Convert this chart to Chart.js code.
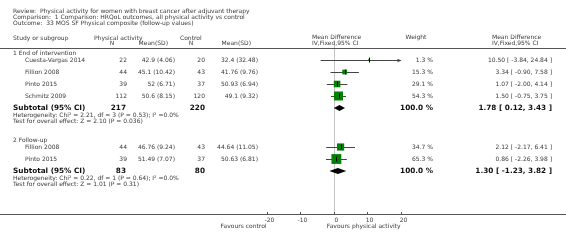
<!DOCTYPE html>
<html>
<head>
<meta charset="utf-8">
<script src="https://cdn.jsdelivr.net/npm/chart.js@4"></script>
<style>
  html, body { margin:0; padding:0; background:#fff; }
  canvas { display:block; }
</style>
</head>
<body>
<canvas id="forest" width="566" height="245"></canvas>
<script>
// ---- data ----
const titleLines = [
  "Review:  Physical activity for women with breast cancer after adjuvant therapy",
  "Comparison:  1 Comparison: HRQoL outcomes, all physical activity vs control",
  "Outcome:  33 MOS SF Physical composite (follow-up values)"
];

const groupNames = ["1 End of intervention", "2 Follow-up"];
const studyNames = ["Cuesta-Vargas 2014", "Fillion 2008", "Pinto 2015", "Schmitz 2009", "Fillion 2008", "Pinto 2015"];
const studyGroup = [0, 0, 0, 0, 1, 1];

const paN    = [22, 44, 39, 112, 44, 39];
const paMean = [42.9, 45.1, 52, 50.6, 46.76, 51.49];
const paSD   = [4.06, 10.42, 6.71, 8.15, 9.24, 7.07];
const ctlN    = [20, 43, 37, 120, 43, 37];
const ctlMean = [32.4, 41.76, 50.93, 49.1, 44.64, 50.63];
const ctlSD   = [32.48, 9.76, 6.94, 9.32, 11.05, 6.81];

const md     = [10.50, 3.34, 1.07, 1.50, 2.12, 0.86];
const mdLo   = [-3.84, -0.90, -2.00, -0.75, -2.17, -2.26];
const mdHi   = [24.84, 7.58, 4.14, 3.75, 6.41, 3.98];
const weight = [1.3, 15.3, 29.1, 54.3, 34.7, 65.3];

const subPaN  = [217, 83];
const subCtlN = [220, 80];
const subMd   = [1.78, 1.30];
const subLo   = [0.12, -1.23];
const subHi   = [3.43, 3.82];
const hetChi  = [2.21, 0.22];
const hetDf   = [3, 1];
const hetP    = [0.53, 0.64];
const hetI2   = [0.0, 0.0];
const zVal    = [2.10, 1.01];
const zP      = [0.036, 0.31];

const axisTicks = [-20, -10, 0, 10, 20];
const favLeft  = "Favours control";
const favRight = "Favours physical activity";

// ---- layout ----
const W = 566, H = 245;
const GROUP_START = [0, 7.25];   // row index where each group's first study sits
const FONT = '"DejaVu Sans", Verdana, sans-serif';
const fBody = `6px ${FONT}`;
const fBold = `bold 7.3px ${FONT}`;
const TXT = "#3a3a3a";

const studyRow = [];
(function(){
  const seen = [0, 0];
  studyGroup.forEach((g, i) => { studyRow[i] = GROUP_START[g] + seen[g]; seen[g]++; });
})();
const subRow = GROUP_START.map((s, g) => s + studyGroup.filter(x => x === g).length);

const sq = weight.map(w => 1.22 * Math.sqrt(w));       // square side, px

function txt(ctx, s, x, y, align, font, color){
  ctx.font = font || fBody;
  ctx.fillStyle = color || TXT;
  ctx.textAlign = align || "left";
  ctx.textBaseline = "middle";
  ctx.fillText(s, x, y);
}

const forestDecor = {
  id: "forestDecor",
  beforeDraw(chart){
    const { ctx } = chart;
    ctx.save();
    ctx.fillStyle = "#fff";
    ctx.fillRect(0, 0, W, H);
    ctx.restore();
  },
  beforeDatasetsDraw(chart){
    const { ctx, scales:{ x, y } } = chart;
    const axisY = chart.chartArea.bottom + 0.5;
    ctx.save();
    ctx.lineWidth = 1;

    // zero line
    const x0 = Math.round(x.getPixelForValue(0)) + 0.5;
    ctx.strokeStyle = "#c4c4c4";
    ctx.beginPath(); ctx.moveTo(x0, 44); ctx.lineTo(x0, axisY); ctx.stroke();

    // header rule and axis rule
    ctx.strokeStyle = "#555";
    ctx.beginPath(); ctx.moveTo(0, 48.5); ctx.lineTo(W, 48.5); ctx.stroke();
    ctx.beginPath(); ctx.moveTo(0, axisY); ctx.lineTo(W, axisY); ctx.stroke();

    // ticks
    axisTicks.forEach(t => {
      const px = Math.round(x.getPixelForValue(t)) + 0.5;
      ctx.beginPath(); ctx.moveTo(px, axisY - 2.5); ctx.lineTo(px, axisY); ctx.stroke();
      txt(ctx, String(t), px + 2, axisY + 6, "center");
    });
    txt(ctx, favLeft, x.getPixelForValue(-20), axisY + 12, "right");
    txt(ctx, favRight, x.getPixelForValue(20), axisY + 12, "right");

    // whiskers
    ctx.strokeStyle = "#444";
    md.forEach((m, i) => {
      const py = Math.round(y.getPixelForValue(studyRow[i])) + 0.5;
      const lo = Math.max(mdLo[i], x.min), hi = Math.min(mdHi[i], x.max);
      const xl = x.getPixelForValue(lo), xh = x.getPixelForValue(hi);
      ctx.beginPath(); ctx.moveTo(xl, py); ctx.lineTo(xh, py); ctx.stroke();
      if (mdHi[i] > x.max){
        ctx.fillStyle = "#444";
        ctx.beginPath(); ctx.moveTo(xh + 1, py); ctx.lineTo(xh - 3, py - 1.8); ctx.lineTo(xh - 3, py + 1.8); ctx.closePath(); ctx.fill();
      }
    });
    ctx.restore();
  },
  afterDatasetsDraw(chart){
    const { ctx, scales:{ x, y } } = chart;
    ctx.save();

    // point-estimate ticks
    ctx.strokeStyle = "#000";
    ctx.lineWidth = 1;
    md.forEach((m, i) => {
      const px = Math.round(x.getPixelForValue(m)) + 0.5;
      const py = y.getPixelForValue(studyRow[i]);
      ctx.beginPath(); ctx.moveTo(px, py - 2.5); ctx.lineTo(px, py + 2.5); ctx.stroke();
    });

    // subtotal diamonds
    ctx.fillStyle = "#000";
    subMd.forEach((m, g) => {
      const py = y.getPixelForValue(subRow[g]);
      ctx.beginPath();
      ctx.moveTo(x.getPixelForValue(subLo[g]), py);
      ctx.lineTo(x.getPixelForValue(m), py - 3);
      ctx.lineTo(x.getPixelForValue(subHi[g]), py);
      ctx.lineTo(x.getPixelForValue(m), py + 3);
      ctx.closePath();
      ctx.fill();
    });

    // title block
    titleLines.forEach((s, i) => txt(ctx, s, 13, 11.5 + i * 6));

    // column headers
    txt(ctx, "Study or subgroup", 13, 38);
    txt(ctx, "Physical activity", 94, 38);
    txt(ctx, "N", 112, 43.5, "center");
    txt(ctx, "Mean(SD)", 168, 43.5, "right");
    txt(ctx, "Control", 180, 38);
    txt(ctx, "N", 191, 43.5, "center");
    txt(ctx, "Mean(SD)", 251, 43.5, "right");
    txt(ctx, "Mean Difference", 312, 37);
    txt(ctx, "IV,Fixed,95% CI", 312, 43);
    txt(ctx, "Weight", 416, 37, "center");
    txt(ctx, "Mean Difference", 492, 37);
    txt(ctx, "IV,Fixed,95% CI", 492, 43);

    const ci = (m, l, h) => `${m.toFixed(2)} [ ${l.toFixed(2)}, ${h.toFixed(2)} ]`;

    // study rows
    studyNames.forEach((name, i) => {
      const py = y.getPixelForValue(studyRow[i]) + 0.5;
      txt(ctx, name, 25, py);
      txt(ctx, String(paN[i]), 127, py, "right");
      txt(ctx, `${paMean[i]} (${paSD[i]})`, 175, py, "right");
      txt(ctx, String(ctlN[i]), 205, py, "right");
      txt(ctx, `${ctlMean[i]} (${ctlSD[i]})`, 258, py, "right");
      txt(ctx, `${weight[i].toFixed(1)} %`, 433, py, "right");
      txt(ctx, ci(md[i], mdLo[i], mdHi[i]), 552, py, "right");
    });

    // group labels, subtotals, heterogeneity
    groupNames.forEach((gname, g) => {
      txt(ctx, gname, 13, y.getPixelForValue(GROUP_START[g] - 0.58));
      const py = y.getPixelForValue(subRow[g]) + 0.5;
      txt(ctx, "Subtotal (95% CI)", 13, py, "left", fBold, "#111");
      txt(ctx, String(subPaN[g]), 126, py, "right", fBold, "#111");
      txt(ctx, String(subCtlN[g]), 205, py, "right", fBold, "#111");
      txt(ctx, "100.0 %", 433, py, "right", fBold, "#111");
      txt(ctx, ci(subMd[g], subLo[g], subHi[g]), 552, py, "right", fBold, "#111");
      txt(ctx, `Heterogeneity: Chi\u00B2 = ${hetChi[g].toFixed(2)}, df = ${hetDf[g]} (P = ${hetP[g].toFixed(2)}); I\u00B2 =${hetI2[g].toFixed(1)}%`, 13, py + 7);
      txt(ctx, `Test for overall effect: Z = ${zVal[g].toFixed(2)} (P = ${zP[g]})`, 13, py + 13);
    });
    ctx.restore();
  }
};

new Chart(document.getElementById("forest"), {
  type: "scatter",
  data: {
    datasets: [{
      data: md.map((m, i) => ({ x: m, y: studyRow[i] })),
      pointStyle: "rect",
      pointRadius: sq.map(s => s / Math.SQRT2),
      pointHoverRadius: sq.map(s => s / Math.SQRT2),
      backgroundColor: "#008000",
      borderColor: "#007000",
      borderWidth: 0,
      clip: false
    }]
  },
  options: {
    responsive: false,
    animation: false,
    devicePixelRatio: 1,
    events: [],
    layout: { padding: { left: 266.5, right: 165.5, top: 60, bottom: 31 } },
    plugins: { legend: { display: false }, tooltip: { enabled: false } },
    scales: {
      x: { type: "linear", min: -20, max: 20, display: false },
      y: { type: "linear", min: 0, max: (214 - 60) / 12, reverse: true, display: false }
    }
  },
  plugins: [forestDecor]
});
</script>
</body>
</html>
